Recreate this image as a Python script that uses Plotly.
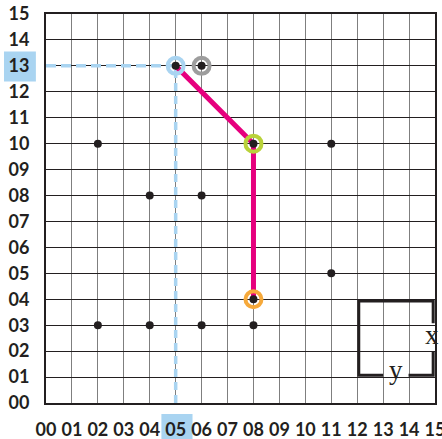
import plotly.graph_objects as go

# ---- data ----
ticks = list(range(16))
tick_labels = [f"{v:02d}" for v in ticks]

dots_x = [2, 4, 6, 2, 4, 6, 8, 11, 11, 5, 6, 8, 8]
dots_y = [10, 8, 8, 3, 3, 3, 3, 10, 5, 13, 13, 10, 4]

path_x = [5, 8, 8]
path_y = [13, 10, 4]

ring_x = [5, 6, 8, 8]
ring_y = [13, 13, 10, 4]
ring_colors = ["#a9d4f1", "#9d9d9d", "#b9d23a", "#f6a93b"]

guide_h_x = [0, 5]
guide_h_y = [13, 13]
guide_v_x = [5, 5]
guide_v_y = [0, 13]

box_x = [13.0, 12.06, 12.06, 14.93, 14.93, None, 14.93, 14.93, 13.98]
box_y = [1.07, 1.07, 3.93, 3.93, 3.08, None, 1.98, 1.07, 1.07]
label_x_pos = (14.9, 2.53)
label_y_pos = (13.5, 1.1)

highlight_x = 5
highlight_y = 13

fig = go.Figure()

fig.add_trace(go.Scatter(x=guide_h_x, y=guide_h_y, mode="lines",
                         line=dict(color="#a9d4f1", width=3.5, dash="10px,5px"),
                         hoverinfo="skip"))
fig.add_trace(go.Scatter(x=guide_v_x, y=guide_v_y, mode="lines",
                         line=dict(color="#a9d4f1", width=3.5, dash="8px,5px"),
                         hoverinfo="skip"))
fig.add_trace(go.Scatter(x=path_x, y=path_y, mode="lines",
                         line=dict(color="#e6007e", width=5),
                         hoverinfo="skip"))
fig.add_trace(go.Scatter(x=ring_x, y=ring_y, mode="markers",
                         marker=dict(size=16, color="rgba(255,255,255,0)",
                                     line=dict(color=ring_colors, width=4)),
                         hoverinfo="skip"))
fig.add_trace(go.Scatter(x=dots_x, y=dots_y, mode="markers",
                         marker=dict(size=8, color="#231f20"),
                         hoverinfo="skip"))
fig.add_trace(go.Scatter(x=box_x, y=box_y, mode="lines",
                         line=dict(color="#231f20", width=3),
                         connectgaps=False, hoverinfo="skip", cliponaxis=False))

fig.add_annotation(x=label_x_pos[0], y=label_x_pos[1], text="x", showarrow=False,
                   font=dict(family="Liberation Serif", size=27, color="#231f20"),
                   yshift=2)
fig.add_annotation(x=label_y_pos[0], y=label_y_pos[1], text="y", showarrow=False,
                   font=dict(family="Liberation Serif", size=27, color="#231f20"),
                   yshift=4)

# highlight backgrounds behind tick labels
fig.add_shape(type="rect", xref="x", yref="paper",
              x0=highlight_x - 0.55, x1=highlight_x + 0.65, y0=-0.028, y1=-0.2,
              fillcolor="#a9d4f1", line=dict(width=0), layer="below")
fig.add_shape(type="rect", xref="paper", yref="y",
              x0=-0.108, x1=-0.026, y0=highlight_y - 0.6, y1=highlight_y + 0.55,
              fillcolor="#a9d4f1", line=dict(width=0), layer="below")

tick_font = dict(family="Lato", size=18, color="#231f20", weight="bold")

fig.update_xaxes(range=[0, 15], tickvals=ticks, ticktext=tick_labels,
                 showgrid=True, gridcolor="#7f7f7f", gridwidth=1.3,
                 showline=True, linecolor="#231f20", linewidth=2, mirror=True,
                 zeroline=False, ticks="", ticklabelstandoff=9,
                 ticklabeloverflow="allow",
                 tickfont=tick_font, fixedrange=True, automargin=False)
fig.update_yaxes(range=[0, 15], tickvals=ticks, ticktext=tick_labels,
                 showgrid=True, gridcolor="#231f20", gridwidth=1.2,
                 showline=True, linecolor="#231f20", linewidth=2, mirror=True,
                 zeroline=False, ticks="", ticklabelstandoff=11,
                 ticklabeloverflow="allow",
                 tickfont=tick_font, fixedrange=True, automargin=False)

fig.update_layout(width=442, height=439,
                  margin=dict(l=46, r=7, t=14, b=36),
                  paper_bgcolor="white", plot_bgcolor="white",
                  showlegend=False)

fig.write_html("out.html", config={"displayModeBar": False},
               post_script="document.body.style.margin='0px';")
